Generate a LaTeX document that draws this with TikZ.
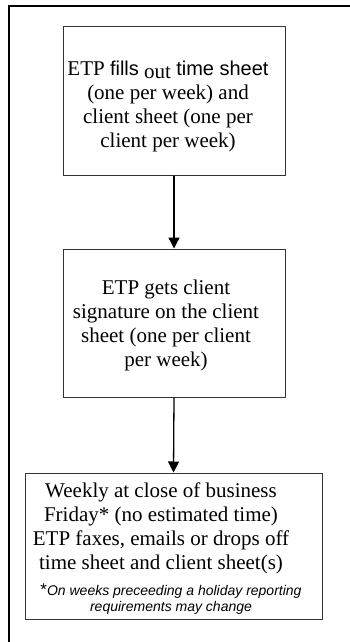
\documentclass[tikz,border=0pt]{standalone}
\usepackage{fontspec}
\setmainfont{Liberation Serif}
\newfontfamily\arial{Liberation Sans}
\usetikzlibrary{arrows.meta}
\begin{document}
\begin{tikzpicture}[x=1pt,y=-1pt,
  stepbox/.style={draw=black!80, line width=1pt, inner sep=0pt},
  txt/.style={align=center, inner sep=0pt, anchor=north, font=\fontsize{21}{24}\selectfont},
  foot/.style={align=center, inner sep=0pt, anchor=north, font=\arial\itshape\fontsize{14}{16}\selectfont},
  conn/.style={line width=1.3pt, -{Triangle[length=11pt,width=11pt]}},
  frameline/.style={line width=2pt}]
\useasboundingbox (0,0) rectangle (350,642);
% outer frame (cut off at right and bottom)
\draw[frameline] (8.5,660) -- (8.5,6) -- (370,6);
% boxes
\node[stepbox, minimum width=222pt, minimum height=148pt] (b1) at (174,101) {};
\node[stepbox, minimum width=222pt, minimum height=148pt] (b2) at (174,323) {};
\node[stepbox, minimum width=297pt, minimum height=146pt] (b3) at (173.5,546) {};
% texts
\node[txt] (t1) at (168,61) {ETP {\arial\fontsize{20}{24}\selectfont fills} \raisebox{-3pt}{out} {\arial\fontsize{20}{24}\selectfont time sheet}\\(one per week) and\\client sheet (one per\\client per week)};
\node[txt] (t2) at (166,280) {ETP gets client\\signature on the client\\sheet (one per client\\per week)};
\node[txt] (t3) at (161,483) {Weekly at close of business\\Friday* (no estimated time)\\ETP faxes, emails or drops off\\time sheet and client sheet(s)};
\node[foot] (t4) at (171,584) {{\upshape\fontsize{17}{16}\selectfont\raisebox{0pt}{*}}On weeks preceeding a holiday reporting\\requirements may change};
% connectors
\draw[conn] (b1.south) -- (b2.north);
\draw[conn] (b2.south) -- (b3.north);
\end{tikzpicture}
\end{document}
